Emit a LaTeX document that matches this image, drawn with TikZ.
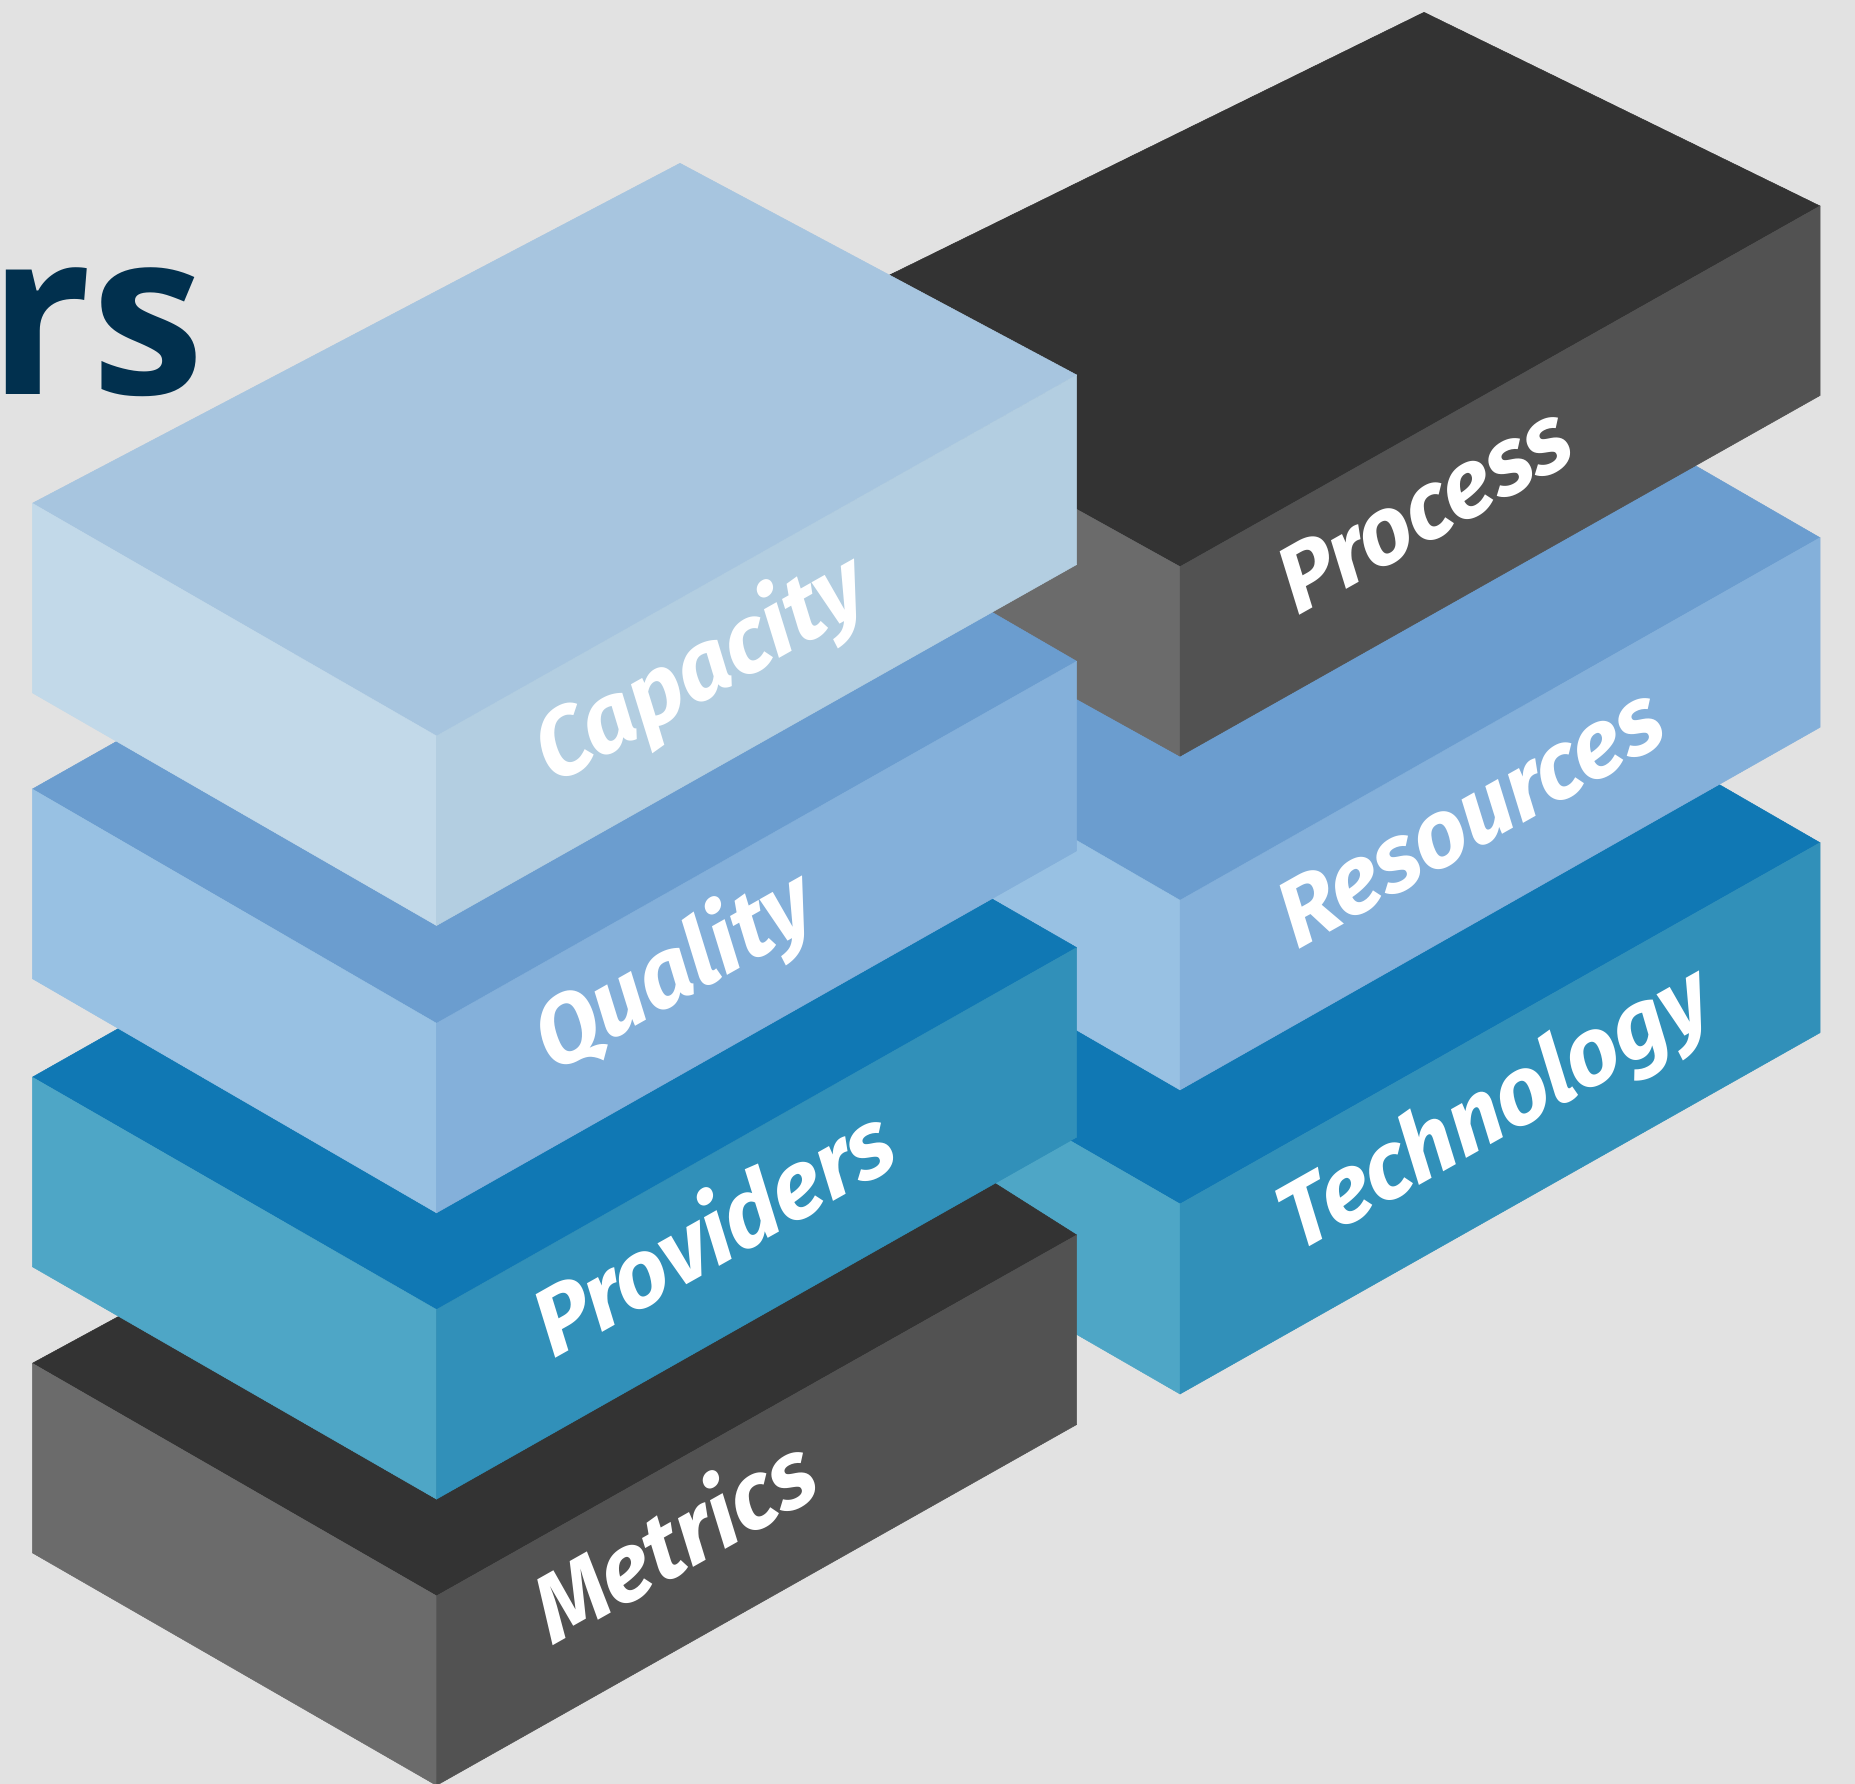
\documentclass[tikz,border=0pt]{standalone}
\usepackage{fontspec}
\newfontfamily\labelfont{Fira Sans}
\newfontfamily\titlefont{Open Sans}
\usetikzlibrary{calc}
\definecolor{bg}{HTML}{E2E2E2}
\definecolor{titlecol}{HTML}{01304E}
\definecolor{capT}{HTML}{A7C5DF}\definecolor{capL}{HTML}{C2D9E9}\definecolor{capR}{HTML}{B3CEE1}
\definecolor{quaT}{HTML}{6B9DCF}\definecolor{quaL}{HTML}{98C1E3}\definecolor{quaR}{HTML}{84B0DA}
\definecolor{proT}{HTML}{1078B4}\definecolor{proL}{HTML}{4EA6C6}\definecolor{proR}{HTML}{3190B9}
\definecolor{drkT}{HTML}{333333}\definecolor{drkL}{HTML}{6B6B6B}\definecolor{drkR}{HTML}{525252}
\newcommand\isoblock[8]{% L F R B h top left right
  \path #1 coordinate (L) #2 coordinate (F) #3 coordinate (R) #4 coordinate (B);
  \filldraw[face, fill=#6, draw=#6] (L) -- (F) -- (R) -- (B) -- cycle;
  \filldraw[face, fill=#7, draw=#7] (L) -- (F) -- ([yshift=-#5]F) -- ([yshift=-#5]L) -- cycle;
  \filldraw[face, fill=#8, draw=#8] (F) -- (R) -- ([yshift=-#5]R) -- ([yshift=-#5]F) -- cycle;
}
% baseline along the face edge (29.4 deg), letters sheared to ~25 deg
\newcommand\isolabel[3]{% position, name, text
  \begin{scope}[cm={0.8712,0.4909,-0.4226,0.9063,#1}]
    \node[facelabel] (#2) at (0,0) {#3};
  \end{scope}
}
\begin{document}
\begin{tikzpicture}[x=1pt,y=-1pt,
  face/.style={line width=0.5pt, line join=round},
  facelabel/.style={transform shape, anchor=base west, inner sep=0pt, text=white,
    font=\labelfont\bfseries\itshape\fontsize{94}{104}\selectfont}]
\useasboundingbox (0,0) rectangle (1855,1784);
\fill[bg] (0,0) rectangle (1855,1784);
\node[anchor=base west, inner sep=0pt, text=titlecol,
  font=\titlefont\bfseries\fontsize{228}{240}\selectfont] (title) at (-12,395) {rs};
% right column
\isoblock{(775.8,971)}{(1180,1204)}{(1820,842.7)}{(1416.3,609.7)}{190}{proT}{proL}{proR}
\isoblock{(775.3,666.1)}{(1180,900.3)}{(1820,537.7)}{(1415.8,304.1)}{189.6}{quaT}{quaL}{quaR}
\isoblock{(765,336.3)}{(1180,566.7)}{(1820,206)}{(1424,12.3)}{189.5}{drkT}{drkL}{drkR}
% left column
\isoblock{(32.3,1363.3)}{(436.5,1595.9)}{(1076.7,1235)}{(703.6,998.8)}{189.5}{drkT}{drkL}{drkR}
\isoblock{(32.3,1077.2)}{(436.5,1309.6)}{(1076.7,947.6)}{(672.5,715.2)}{189.5}{proT}{proL}{proR}
\isoblock{(32.3,789.1)}{(436.5,1023.3)}{(1076.7,661.3)}{(672.5,427.1)}{189.5}{quaT}{quaL}{quaR}
\isoblock{(32.3,503.3)}{(436.5,736)}{(1076.7,375)}{(680,163.3)}{189.5}{capT}{capL}{capR}
% labels
\isolabel{(1297,617)}{process}{Process}
\isolabel{(1297,950.3)}{resources}{Resources}
\isolabel{(1297,1254)}{technology}{Technology}
\isolabel{(553,786)}{capacity}{Capacity}
\isolabel{(553,1073.3)}{quality}{Quality}
\isolabel{(553,1359.6)}{providers}{Providers}
\isolabel{(553,1645.9)}{metrics}{Metrics}
\end{tikzpicture}
\end{document}
